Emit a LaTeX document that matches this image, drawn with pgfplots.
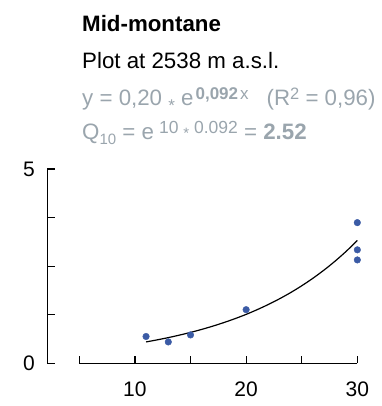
\documentclass[border=0pt]{standalone}
\usepackage{pgfplots}
\pgfplotsset{compat=1.18}
\usepackage{fontspec}
\setmainfont{Liberation Sans}
\definecolor{txtgray}{RGB}{154,165,173}
\definecolor{ptblue}{RGB}{59,91,165}
\newcommand{\smallast}[2]{\raisebox{#1}{\fontsize{#2}{#2}\selectfont *}}
\begin{document}
\begin{tikzpicture}[x=1pt,y=1pt]
\path[use as bounding box] (0,0) rectangle (381,406);
\begin{axis}[
  at={(47.3pt,42.7pt)}, anchor=south west,
  scale only axis,
  x=11.12pt, y=38.86pt,
  xmin=2.12, xmax=30, ymin=0, ymax=5,
  axis lines*=left,
  x axis line style={draw=none},
  y axis line style={line width=1.2pt},
  tick align=inside,
  tick style={black, line width=1.2pt},
  major tick length=7.5pt,
  xtick={5,10,15,20,25,30},
  xticklabels={,10,,20,,30},
  ytick={0,1.25,2.5,3.75,5},
  yticklabels={0,,,,5},
  ticklabel style={font=\fontsize{21}{21}\selectfont},
  xticklabel style={yshift=-15pt},
  yticklabel style={xshift=-9pt},
  clip=false,
]
\draw[line width=1.2pt] (axis cs:5,0) -- (axis cs:30,0);
\addplot[black, line width=1.2pt, smooth] coordinates {
(11,0.550) (12,0.603) (13,0.661) (14,0.725) (15,0.795) (16,0.872)
(17,0.956) (18,1.048) (19,1.149) (20,1.259) (21,1.381) (22,1.514)
(23,1.660) (24,1.819) (25,1.995) (26,2.187) (27,2.398) (28,2.629)
(29,2.882) (30,3.160)};
\addplot[only marks, mark=*, mark size=3.3pt, ptblue, mark options={draw=ptblue, fill=ptblue}] coordinates {
(11,0.69) (13,0.55) (15,0.73) (20,1.38) (30,3.62) (30,2.92) (30,2.66)};
\end{axis}
\node[anchor=base west, inner sep=0] at (82,374) {\fontsize{22.3}{26}\selectfont\bfseries Mid-montane};
\node[anchor=base west, inner sep=0] at (82,337) {\fontsize{22.3}{26}\selectfont Plot at 2538 m a.s.l.};
\node[anchor=base west, inner sep=0, text=txtgray] at (82,300) {\fontsize{22.3}{26}\selectfont y = 0,20 \smallast{-6pt}{17} e\hspace{2pt}\raisebox{6.5pt}{\fontsize{17}{16}\selectfont\bfseries 0,092\mdseries\hspace{2pt}x}\hspace{18pt}(R\raisebox{6.5pt}{\fontsize{16.5}{16}\selectfont 2} = 0,96)};
\node[anchor=base west, inner sep=0, text=txtgray] at (82,266) {\fontsize{22.3}{26}\selectfont Q\raisebox{-5pt}{\fontsize{15}{15}\selectfont 10} = e\hspace{5pt}\raisebox{6pt}{\fontsize{17.5}{17}\selectfont 10 \smallast{-4.5pt}{15} 0.092} = \textbf{2.52}};
\end{tikzpicture}
\end{document}
